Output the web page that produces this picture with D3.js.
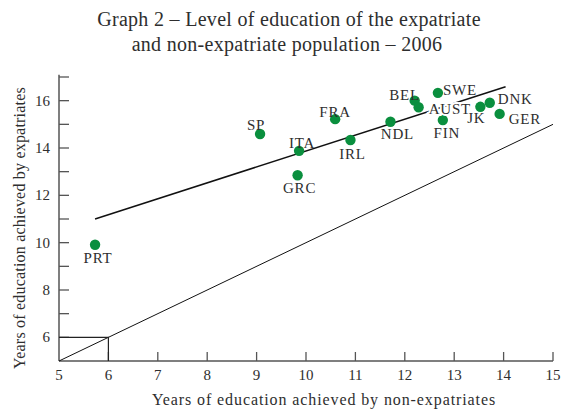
<!DOCTYPE html>
<html lang="en">
<head>
  <meta charset="UTF-8">
  <title>Graph 2 – Level of education</title>
  <script src="https://d3js.org/d3.v7.min.js"></script>
  <style>
    body { margin: 0; background: #fff; }
    text { font-family: "Liberation Serif", "DejaVu Serif", serif; fill: #2e2e2e; }
    .title { font-size: 20px; letter-spacing: 0.3px; }
    .axis-title { font-size: 16px; }
    .tick-label { font-size: 15px; }
    .pt-label { font-size: 15px; letter-spacing: 0.8px; }
  </style>
</head>
<body>
  <svg id="chart" width="566" height="414"></svg>

  <script>
    // countries, x = non-expatriates, y = expatriates
    const countries = ["PRT", "SP", "ITA", "GRC", "FRA", "IRL", "NDL", "BEL", "AUST", "SWE", "FIN", "JK", "DNK", "GER"];
    const nonExpat = [5.73, 9.07, 9.86, 9.83, 10.59, 10.90, 11.71, 12.20, 12.28, 12.67, 12.77, 13.53, 13.72, 13.92];
    const expat    = [9.91, 14.59, 13.88, 12.85, 15.22, 14.34, 15.11, 16.00, 15.72, 16.33, 15.18, 15.74, 15.91, 15.44];
    const xTicks = [5, 6, 7, 8, 9, 10, 11, 12, 13, 14, 15];
    const yTicks = [6, 8, 10, 12, 14, 16];
    const yMinorTicks = [6, 7, 8, 9, 10, 11, 12, 13, 14, 15, 16, 17];
    const trendLine = [[5.73, 11.0], [14.04, 16.59]];
    const equalLine = [[5, 5], [15, 15]];

    // label placement: [dx, dy, anchor]
    const labelPos = {
      PRT: [3, 18, "middle"], SP: [-4, -4, "middle"], ITA: [3, -3, "middle"],
      GRC: [2, 18, "middle"], FRA: [0, -2, "middle"], IRL: [2, 19, "middle"],
      NDL: [7, 17, "middle"], BEL: [-10, -1, "middle"], AUST: [10, 7, "start"],
      SWE: [5, 2, "start"], FIN: [4, 18, "middle"], JK: [-4, 16, "middle"],
      DNK: [8, 1, "start"], GER: [9, 10, "start"]
    };

    const svg = d3.select("#chart");

    const x = d3.scaleLinear().domain([5, 15]).range([59, 553]);
    const y = d3.scaleLinear().domain([5, 17]).range([361, 77]);

    // title
    svg.append("text").attr("class", "title").attr("x", 289).attr("y", 26)
      .attr("text-anchor", "middle").text("Graph 2 – Level of education of the expatriate");
    svg.append("text").attr("class", "title").attr("x", 287).attr("y", 51)
      .attr("text-anchor", "middle").text("and non-expatriate population – 2006");

    // axes
    const axisColor = "#555";
    svg.append("line").attr("x1", x(5)).attr("x2", x(15)).attr("y1", y(5)).attr("y2", y(5))
      .attr("stroke", axisColor).attr("stroke-width", 1.5);
    svg.append("line").attr("x1", x(5)).attr("x2", x(5)).attr("y1", y(5)).attr("y2", y(17.1))
      .attr("stroke", axisColor).attr("stroke-width", 1.5);

    svg.selectAll(".xtick").data(xTicks.slice(1)).enter().append("line")
      .attr("x1", d => x(d)).attr("x2", d => x(d)).attr("y1", y(5)).attr("y2", y(5) - 9)
      .attr("stroke", axisColor).attr("stroke-width", 1.3);
    svg.selectAll(".ytick").data(yMinorTicks).enter().append("line")
      .attr("x1", x(5)).attr("x2", x(5) + 10).attr("y1", d => y(d)).attr("y2", d => y(d))
      .attr("stroke", axisColor).attr("stroke-width", 1.3);

    svg.selectAll(".xlab").data(xTicks).enter().append("text").attr("class", "tick-label")
      .attr("x", d => x(d)).attr("y", 380).attr("text-anchor", "middle").text(d => d);
    svg.selectAll(".ylab").data(yTicks).enter().append("text").attr("class", "tick-label")
      .attr("x", 50).attr("y", d => y(d) + 5).attr("text-anchor", "end").text(d => d);

    svg.append("text").attr("class", "axis-title").attr("x", 324).attr("y", 405)
      .attr("text-anchor", "middle").style("letter-spacing", "0.9px")
      .text("Years of education achieved by non-expatriates");
    svg.append("text").attr("class", "axis-title")
      .attr("transform", `translate(25, 228) rotate(-90)`)
      .attr("text-anchor", "middle").style("letter-spacing", "0.2px")
      .text("Years of education achieved by expatriates");

    // reference lines
    const line = d3.line().x(d => x(d[0])).y(d => y(d[1]));
    svg.append("path").attr("d", line(equalLine)).attr("fill", "none")
      .attr("stroke", "#111").attr("stroke-width", 1);
    svg.append("path").attr("d", line([[5, 6], [6, 6], [6, 5]])).attr("fill", "none")
      .attr("stroke", "#222").attr("stroke-width", 1.2);
    svg.append("path").attr("d", line(trendLine)).attr("fill", "none")
      .attr("stroke", "#111").attr("stroke-width", 1.5);

    const data = countries.map((c, i) => ({ name: c, x: nonExpat[i], y: expat[i] }));

    svg.selectAll(".dot").data(data).enter().append("circle")
      .attr("cx", d => x(d.x)).attr("cy", d => y(d.y)).attr("r", 5.2)
      .attr("fill", "#0a8f3e");

    svg.selectAll(".pt-label").data(data).enter().append("text").attr("class", "pt-label")
      .attr("x", d => x(d.x) + labelPos[d.name][0])
      .attr("y", d => y(d.y) + labelPos[d.name][1])
      .attr("text-anchor", d => labelPos[d.name][2])
      .attr("stroke", d => d.name === "AUST" ? "#fff" : "none")
      .attr("stroke-width", 4)
      .attr("paint-order", "stroke")
      .text(d => d.name);
  </script>
</body>
</html>
